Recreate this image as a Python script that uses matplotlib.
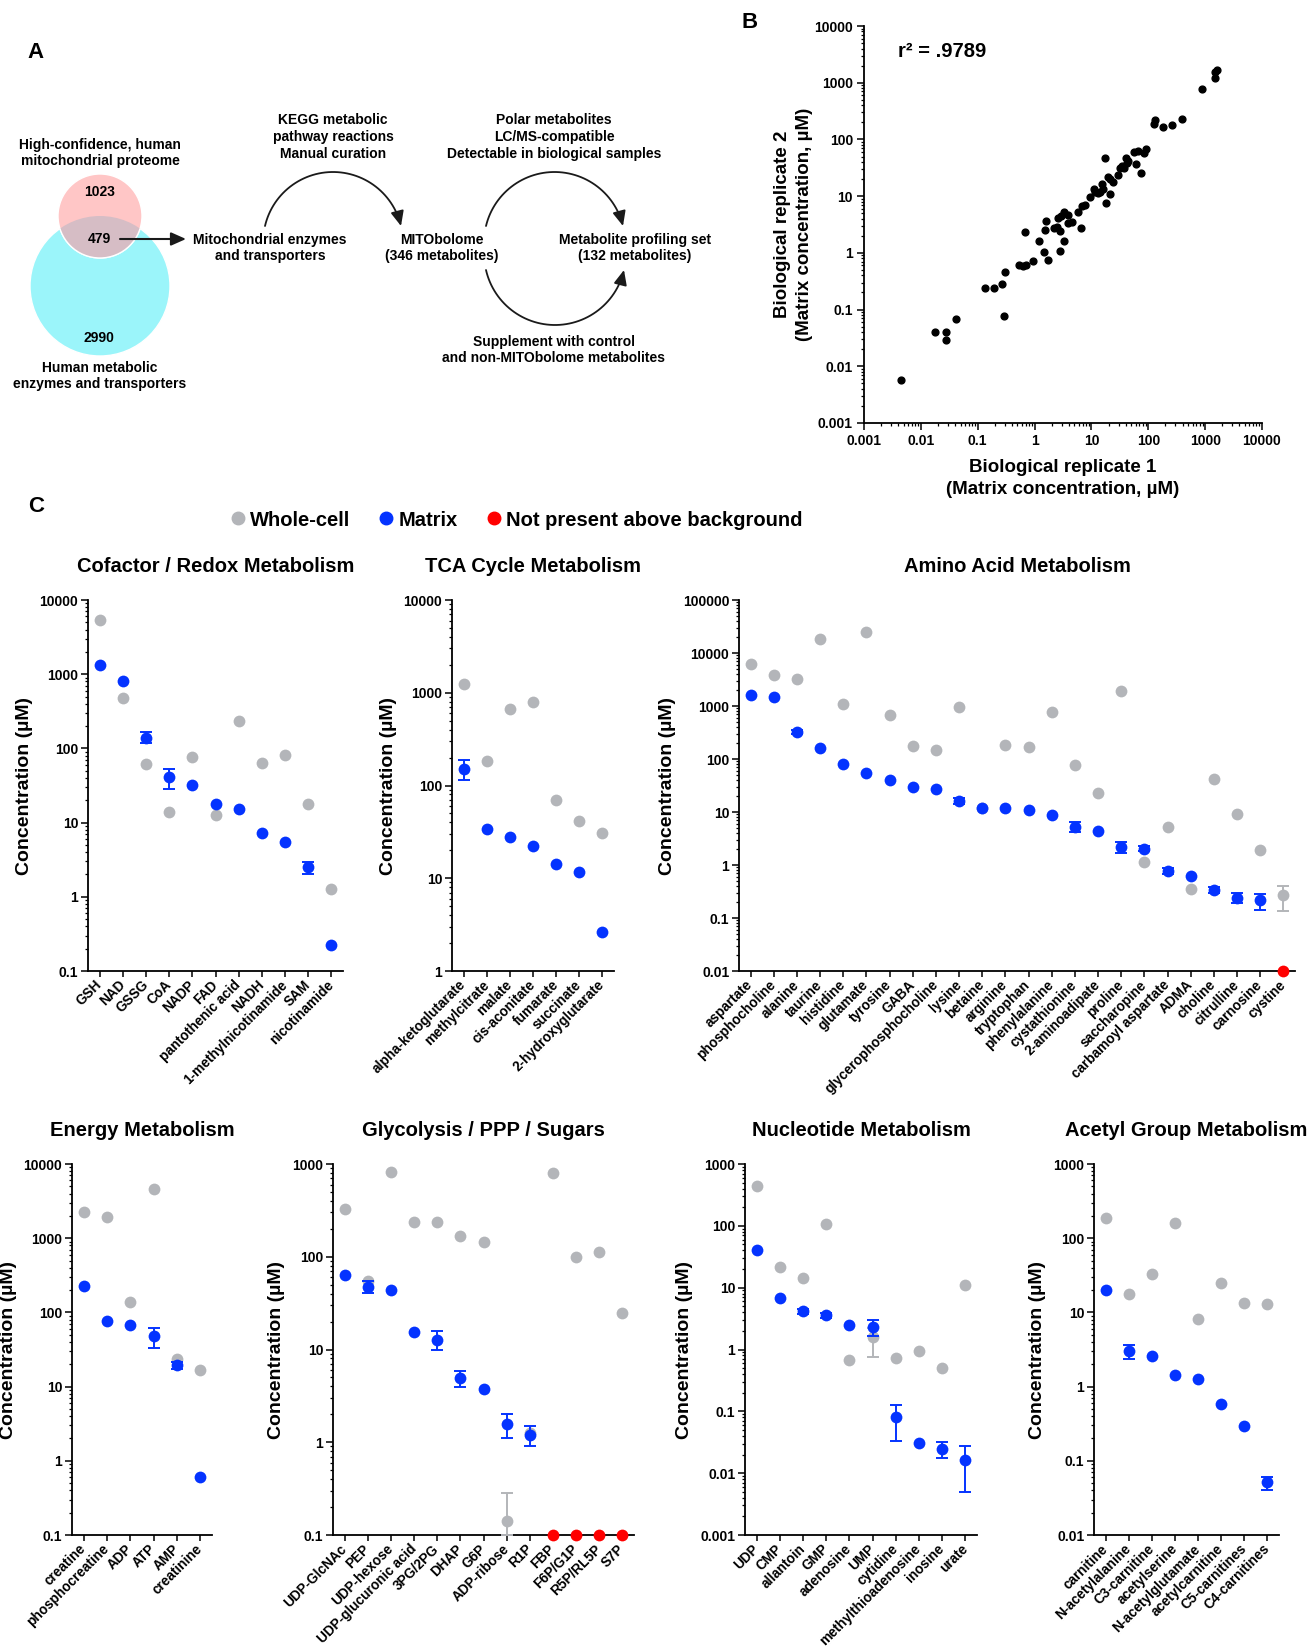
import numpy as np
import matplotlib
matplotlib.use("Agg")
import matplotlib.pyplot as plt
from matplotlib.patches import Circle, FancyArrowPatch
from matplotlib.path import Path
from matplotlib.lines import Line2D
from matplotlib.ticker import LogLocator, NullFormatter, FuncFormatter

plt.rcParams['font.family'] = ['Liberation Sans', 'DejaVu Sans']
plt.rcParams['font.weight'] = 'bold'
plt.rcParams['axes.labelweight'] = 'bold'
plt.rcParams['axes.titleweight'] = 'bold'

W, H = 1309, 1651
GREY = '#b3b5b9'
BLUE = '#0433ff'
RED = '#ff0000'

# ---- panel B: replicate scatter (matrix concentration, uM)
rep1 = [0.0044, 0.0175, 0.0276, 0.028, 0.041, 0.137, 0.195, 0.267, 0.286, 0.308,
        0.527, 0.625, 0.72, 0.68, 0.955, 1.18, 1.46, 1.53, 1.58, 1.71,
        2.24, 2.44, 2.62, 2.77, 2.77, 2.97, 3.24, 3.33, 3.84, 3.95,
        4.61, 5.87, 6.57, 6.95, 7.57, 9.6, 11.1, 11.6, 12.8, 14.1,
        15.4, 16.2, 17.0, 18.2, 19.6, 21.0, 21.6, 24.2, 29.1, 32.2,
        34.5, 37, 39.8, 41.5, 44.6, 55.1, 60.9, 65.3, 75.3, 83.2,
        90.6, 124, 129, 184, 259, 385, 863, 1480, 1480, 1590]
rep2 = [0.0057, 0.040, 0.040, 0.0288, 0.069, 0.244, 0.244, 0.28, 0.076, 0.46,
        0.605, 0.58, 0.62, 2.29, 0.72, 1.63, 1.04, 2.58, 3.67, 0.74,
        2.69, 2.88, 4.2, 2.41, 1.07, 4.5, 1.63, 5.3, 3.39, 4.6,
        3.52, 5.3, 2.69, 6.66, 6.9, 9.7, 13.6, 11.9, 11.5, 11.9,
        16.1, 13.6, 46.2, 7.6, 21.9, 10.7, 19.7, 17.9, 23.5, 30.8,
        33.9, 30.8, 48, 37.7, 42, 60.5, 36.7, 63, 25.1, 58.2,
        67.5, 187, 219, 163, 179, 232, 762, 1191, 1563, 1675]

# ---- panel C data (None = not present above background)
cof_names = ['GSH', 'NAD', 'GSSG', 'CoA', 'NADP', 'FAD', 'pantothenic acid', 'NADH',
             '1-methylnicotinamide', 'SAM', 'nicotinamide']
cof_whole = [5380, 483, 62.5, 14.0, 77, 12.7, 232, 63.8, 80.4, 17.8, 1.29]
cof_matrix = [1336, 807, 140, 41, 32.3, 17.8, 15.3, 7.28, 5.43, 2.5, 0.222]
cof_matrix_err = [(2, 120, 165), (3, 28.5, 53.5), (9, 2.05, 2.96)]

tca_names = ['alpha-ketoglutarate', 'methylcitrate', 'malate', 'cis-aconitate',
             'fumarate', 'succinate', '2-hydroxyglutarate']
tca_whole = [1228, 181.5, 671, 794, 69.2, 41.8, 30.6]
tca_matrix = [151, 33.6, 27.7, 22.1, 14.2, 11.7, 2.62]
tca_matrix_err = [(0, 113.5, 187.6)]

aa_names = ['aspartate', 'phosphocholine', 'alanine', 'taurine', 'histidine', 'glutamate',
            'tyrosine', 'GABA', 'glycerophosphocholine', 'lysine', 'betaine', 'arginine',
            'tryptophan', 'phenylalanine', 'cystathionine', '2-aminoadipate', 'proline',
            'saccharopine', 'carbamoyl aspartate', 'ADMA', 'choline', 'citrulline',
            'carnosine', 'cystine']
aa_whole = [6120, 3767, 3300, 18170, 1111, 24380, 674, 174, 148, 946, 11.8, 185,
            167, 759, 77.6, 22.6, 1888, 1.16, 5.12, 0.347, 41.3, 9.07, 1.88, 0.266]
aa_matrix = [1582, 1448, 323, 162, 80, 54.6, 40.6, 29.4, 26.9, 16.1, 12.0, 11.9,
             11.1, 8.8, 5.27, 4.29, 2.15, 2.03, 0.778, 0.615, 0.337, 0.240, 0.214, None]
aa_matrix_err = [(2, 290, 360), (9, 14, 18.5), (14, 4.2, 6.4), (16, 1.7, 2.7),
                 (17, 1.8, 2.3), (18, 0.68, 0.88), (20, 0.30, 0.38), (21, 0.19, 0.29),
                 (22, 0.144, 0.286)]
aa_whole_err = [(23, 0.137, 0.40)]

en_names = ['creatine', 'phosphocreatine', 'ADP', 'ATP', 'AMP', 'creatinine']
en_whole = [2254, 1940, 138.8, 4571, 23.7, 16.8]
en_matrix = [225, 76.2, 67, 47.5, 19.3, 0.605]
en_matrix_err = [(3, 32.7, 62), (4, 17.5, 21.5)]

gly_names = ['UDP-GlcNAc', 'PEP', 'UDP-hexose', 'UDP-glucuronic acid', '3PG/2PG', 'DHAP',
             'G6P', 'ADP-ribose', 'R1P', 'FBP', 'F6P/G1P', 'R5P/RL5P', 'S7P']
gly_whole = [331, 54.6, 828, 239, 239, 168, 144, 0.141, 1.25, 800, 98.7, 113, 24.6]
gly_matrix = [63.2, 46.8, 44.1, 15.3, 12.8, 4.91, 3.73, 1.57, 1.2, None, None, None, None]
gly_matrix_err = [(1, 40.5, 54.6), (4, 9.83, 16.0), (5, 3.99, 5.83), (7, 1.10, 2.01),
                  (8, 0.92, 1.49)]
gly_whole_err = [(7, 0.1, 0.282)]

nuc_names = ['UDP', 'CMP', 'allantoin', 'GMP', 'adenosine', 'UMP', 'cytidine',
             'methylthioadenosine', 'inosine', 'urate']
nuc_whole = [439, 21.9, 14.3, 109, 0.671, 1.57, 0.724, 0.938, 0.506, 11.2]
nuc_matrix = [41.2, 6.8, 4.22, 3.57, 2.52, 2.31, 0.0814, 0.0302, 0.0249, 0.0163]
nuc_matrix_err = [(2, 3.8, 4.6), (3, 3.2, 3.9), (5, 1.67, 2.98), (6, 0.033, 0.126),
                  (8, 0.0174, 0.0322), (9, 0.005, 0.028)]
nuc_whole_err = [(5, 0.745, 2.2)]

ac_names = ['carnitine', 'N-acetylalanine', 'C3-carnitine', 'acetylserine',
            'N-acetylglutamate', 'acetylcarnitine', 'C5-carnitines', 'C4-carnitines']
ac_whole = [190, 17.6, 32.7, 158, 8.12, 25.0, 13.3, 13.0]
ac_matrix = [20.2, 3.0, 2.55, 1.42, 1.28, 0.581, 0.296, 0.051]
ac_matrix_err = [(1, 2.37, 3.6), (7, 0.041, 0.061)]


fig = plt.figure(figsize=(W / 100, H / 100), dpi=100)


def px_rect(l, t, r, b):
    return [l / W, 1 - b / H, (r - l) / W, (b - t) / H]


# overlay axes in pixel units (top-left origin) for panel A and labels
ax0 = fig.add_axes([0, 0, 1, 1])
ax0.set_xlim(0, W)
ax0.set_ylim(H, 0)
ax0.axis('off')

for letter, (lx, ly) in zip('ABC', [(36, 52), (750, 23), (36, 506)]):
    ax0.text(lx, ly, letter, fontsize=16, ha='center', va='center')

# Venn diagram
cyan = Circle((100, 286), 70, fc='#9bf5fa', ec='white', lw=1)
pink = Circle((100, 216), 42, fc='#ffc6c6', ec='white', lw=1)
ax0.add_patch(cyan)
ax0.add_patch(pink)
both = Circle((100, 216), 42, fc='#d6bdc5', ec='white', lw=1)
ax0.add_patch(both)
both.set_clip_path(cyan)

fs_a = 10
ax0.text(100, 153, 'High-confidence, human\nmitochondrial proteome', fontsize=fs_a,
         ha='center', va='center', linespacing=1.25)
ax0.text(100, 192, '1023', fontsize=fs_a, ha='center', va='center')
ax0.text(99, 239, '479', fontsize=fs_a, ha='center', va='center')
ax0.text(99, 338, '2990', fontsize=fs_a, ha='center', va='center')
ax0.text(100, 376, 'Human metabolic\nenzymes and transporters', fontsize=fs_a,
         ha='center', va='center', linespacing=1.25)
ax0.text(270, 248, 'Mitochondrial enzymes\nand transporters', fontsize=fs_a,
         ha='center', va='center', linespacing=1.25)
ax0.text(333, 137, 'KEGG metabolic\npathway reactions\nManual curation', fontsize=fs_a,
         ha='center', va='center', linespacing=1.25)
ax0.text(442, 248, 'MITObolome\n(346 metabolites)', fontsize=fs_a,
         ha='center', va='center', linespacing=1.25)
ax0.text(554, 137, 'Polar metabolites\nLC/MS-compatible\nDetectable in biological samples',
         fontsize=fs_a, ha='center', va='center', linespacing=1.25)
ax0.text(635, 248, 'Metabolite profiling set\n(132 metabolites)', fontsize=fs_a,
         ha='center', va='center', linespacing=1.25)
ax0.text(554, 350, 'Supplement with control\nand non-MITObolome metabolites', fontsize=fs_a,
         ha='center', va='center', linespacing=1.25)

head = '-|>,head_length=0.45,head_width=0.2'
ax0.add_patch(FancyArrowPatch((120, 239), (186, 239), arrowstyle=head, mutation_scale=20,
                              lw=1.5, color='#1a1a1a', shrinkA=0, shrinkB=0))


def arc_arrow(x0, x1, yend, yapex):
    half = (x1 - x0) / 2
    xm = (x0 + x1) / 2
    s = abs(yend - yapex)
    r = (half ** 2 + s ** 2) / (2 * s)
    sgn = -1 if yapex < yend else 1
    cy = yapex - sgn * r
    te = np.arctan2(r - s, half)
    th = np.linspace(np.pi - te, te, 60)
    pts = np.column_stack([xm + r * np.cos(th), cy + sgn * r * np.sin(th)])
    ax0.add_patch(FancyArrowPatch(path=Path(pts), arrowstyle=head, mutation_scale=20,
                                  lw=1.3, color='#1a1a1a'))


arc_arrow(265, 401, 226, 172)
arc_arrow(486, 623, 226, 172)
arc_arrow(486, 624, 270, 325)

# ---- panel B
axB = fig.add_axes(px_rect(864, 26, 1262, 423))
axB.patch.set_visible(False)
axB.scatter(rep1, rep2, s=24, color='black', zorder=3, clip_on=False)
axB.set_xscale('log')
axB.set_yscale('log')
axB.set_xlim(1e-3, 1e4)
axB.set_ylim(1e-3, 1e4)
fmt = FuncFormatter(lambda v, p: f'{v:g}')
for axis in (axB.xaxis, axB.yaxis):
    axis.set_major_locator(LogLocator(base=10, numticks=20))
    axis.set_minor_locator(LogLocator(base=10, subs=np.arange(2, 10), numticks=20))
    axis.set_major_formatter(fmt)
    axis.set_minor_formatter(NullFormatter())
for sp in ('top', 'right'):
    axB.spines[sp].set_visible(False)
for sp in ('left', 'bottom'):
    axB.spines[sp].set_linewidth(1.3)
axB.tick_params(which='major', length=5, width=1.1, labelsize=10, pad=3)
axB.tick_params(which='minor', length=2.5, width=0.9)
axB.set_xlabel('Biological replicate 1\n(Matrix concentration, µM)', fontsize=13.5,
               labelpad=8, linespacing=1.35)
axB.set_ylabel('Biological replicate 2\n(Matrix concentration, µM)', fontsize=13.5,
               labelpad=1, linespacing=1.35)
axB.text(0.085, 0.935, 'r² = .9789', transform=axB.transAxes, fontsize=14.5, va='center')

# ---- legend for panel C
handles = [Line2D([], [], ls='none', marker='o', ms=9, color=c) for c in (GREY, BLUE, RED)]
fig.legend(handles, ['Whole-cell', 'Matrix', 'Not present above background'],
           loc='center', bbox_to_anchor=(515 / W, 1 - 520 / H), ncol=3, frameon=False,
           fontsize=14.5, handletextpad=0.1, columnspacing=1.3, handlelength=1.0)


def errbars(ax, pts, yvals, color):
    for i, lo, hi in pts:
        v = yvals[i]
        ax.errorbar([i], [v], yerr=[[v - lo], [hi - v]], fmt='none', ecolor=color,
                    elinewidth=1.4, capsize=4, capthick=1.4, zorder=4)


def conc_panel(box, names, whole, matrix, ylim, title, m_err=(), w_err=()):
    ax = fig.add_axes(px_rect(*box))
    ax.patch.set_visible(False)
    x = np.arange(len(names))
    ax.set_yscale('log')
    ax.set_ylim(*ylim)
    ax.set_xlim(-0.5, len(names) - 0.5)
    errbars(ax, w_err, whole, GREY)
    ax.scatter(x, whole, s=72, color=GREY, zorder=3, lw=0)
    have = [i for i, v in enumerate(matrix) if v is not None]
    missing = [i for i, v in enumerate(matrix) if v is None]
    errbars(ax, m_err, matrix, BLUE)
    ax.scatter(have, [matrix[i] for i in have], s=72, color=BLUE, zorder=5, lw=0)
    if missing:
        ax.scatter(missing, [ylim[0]] * len(missing), s=72, color=RED, zorder=6,
                   lw=0, clip_on=False)
    ax.yaxis.set_major_locator(LogLocator(base=10, numticks=20))
    ax.yaxis.set_minor_locator(LogLocator(base=10, subs=np.arange(2, 10), numticks=20))
    ax.yaxis.set_major_formatter(FuncFormatter(lambda v, p: f'{v:g}'))
    ax.yaxis.set_minor_formatter(NullFormatter())
    ax.set_xticks(x)
    ax.set_xticklabels(names, rotation=45, ha='right', va='center',
                       rotation_mode='anchor', fontsize=9.8)
    for sp in ('top', 'right'):
        ax.spines[sp].set_visible(False)
    for sp in ('left', 'bottom'):
        ax.spines[sp].set_linewidth(1.3)
    ax.tick_params(axis='y', which='major', length=5, width=1.1, labelsize=10, pad=2)
    ax.tick_params(axis='y', which='minor', length=2.5, width=0.9)
    ax.tick_params(axis='x', length=4.5, width=1.1, pad=4)
    ax.set_ylabel('Concentration (µM)', fontsize=14, labelpad=5)
    ax.set_title(title, fontsize=14.5, pad=20)
    return ax


conc_panel((88, 600, 343, 971), cof_names, cof_whole, cof_matrix, (0.1, 1e4),
           'Cofactor / Redox Metabolism', cof_matrix_err)
conc_panel((452, 600, 614, 971), tca_names, tca_whole, tca_matrix, (1, 1e4),
           'TCA Cycle Metabolism', tca_matrix_err)
conc_panel((739, 600, 1295, 971), aa_names, aa_whole, aa_matrix, (0.01, 1e5),
           'Amino Acid Metabolism', aa_matrix_err, aa_whole_err)
conc_panel((72, 1164, 212, 1535), en_names, en_whole, en_matrix, (0.1, 1e4),
           'Energy Metabolism', en_matrix_err)
conc_panel((333, 1164, 634, 1535), gly_names, gly_whole, gly_matrix, (0.1, 1e3),
           'Glycolysis / PPP / Sugars', gly_matrix_err, gly_whole_err)
conc_panel((745, 1164, 977, 1535), nuc_names, nuc_whole, nuc_matrix, (1e-3, 1e3),
           'Nucleotide Metabolism', nuc_matrix_err, nuc_whole_err)
conc_panel((1094, 1164, 1279, 1535), ac_names, ac_whole, ac_matrix, (0.01, 1e3),
           'Acetyl Group Metabolism', ac_matrix_err)

fig.savefig('out.png', dpi=100, facecolor='white')
